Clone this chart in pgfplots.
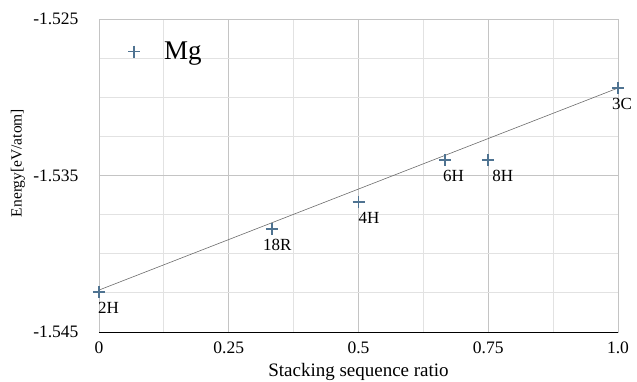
\documentclass[border=0pt]{standalone}
\usepackage{fontspec}
\setmainfont{Liberation Serif}
\usepackage{pgfplots}
\pgfplotsset{compat=1.18}
\definecolor{mk}{HTML}{4F7391}
\definecolor{majg}{HTML}{C4C4C4}
\definecolor{ming}{HTML}{E2E2E2}
\begin{document}
\begin{tikzpicture}
\begin{axis}[
  at={(0pt,0pt)}, anchor=south west,
  scale only axis, width=519pt, height=313pt,
  xmin=0, xmax=1, ymin=-1.545, ymax=-1.525,
  xtick={0,0.25,0.5,0.75,1}, xticklabels={0,0.25,0.5,0.75,1.0},
  minor xtick={0.125,0.375,0.625,0.875},
  ytick={-1.545,-1.535,-1.525}, yticklabels={-1.545,-1.535,-1.525},
  minor ytick={-1.5425,-1.54,-1.5375,-1.5325,-1.53,-1.5275},
  grid=both,
  major grid style={majg, line width=0.8pt},
  minor grid style={ming, line width=0.8pt},
  major tick length=0pt, minor tick length=0pt,
  axis line style={majg, line width=0.8pt},
  tick label style={font=\fontsize{17.5}{18}\selectfont},
  yticklabel style={anchor=east, xshift=-17pt},
  xticklabel style={anchor=north, yshift=-6pt},
  every axis x label/.style={at={(rel axis cs:0.5,0)}, yshift=-40pt, anchor=center, font=\fontsize{19}{20}\selectfont},
  every axis y label/.style={at={(rel axis cs:0,0.54)}, xshift=-81pt, rotate=90, anchor=center, font=\fontsize{15.5}{16}\selectfont},
  xlabel={Stacking sequence ratio},
  ylabel={Energy[eV/atom]},
  legend style={draw=none, fill=none, at={(rel axis cs:0.042,0.94)}, anchor=north west, font=\fontsize{27}{28}\selectfont, legend cell align=left},
  legend image code/.code={\path[draw=none, fill=none] (0pt,0pt) -- (38pt,0pt); \draw[#1] plot coordinates {(10pt,0pt)};},
  after end axis/.code={\draw[black, line width=0.9pt] (rel axis cs:0,0) -- (rel axis cs:1,0);},
  clip=false,
]
\addplot[gray!85!black, line width=0.6pt, forget plot] coordinates {(0,-1.54232) (1,-1.52941)};
\addplot[only marks, mark=+, mark size=6pt, mk, line width=1.6pt,
  visualization depends on={\thisrow{dx} \as \dx},
  nodes near coords, point meta=explicit symbolic,
  nodes near coords style={black, anchor=north west, xshift=\dx pt - 3pt, yshift=-6pt, font=\fontsize{17}{18}\selectfont}]
  table[meta=lab] {
x y lab dx
0 -1.54244 2H -2
0.3333 -1.53842 18R -10
0.5 -1.53669 4H -1
0.6667 -1.53401 6H -3
0.75 -1.53401 8H 3
1.0 -1.52941 3C -7
};
\addlegendentry{Mg}
\end{axis}
\pgfresetboundingbox
\path[use as bounding box] (-99pt,-49pt) rectangle (538pt,332pt);
\end{tikzpicture}
\end{document}
